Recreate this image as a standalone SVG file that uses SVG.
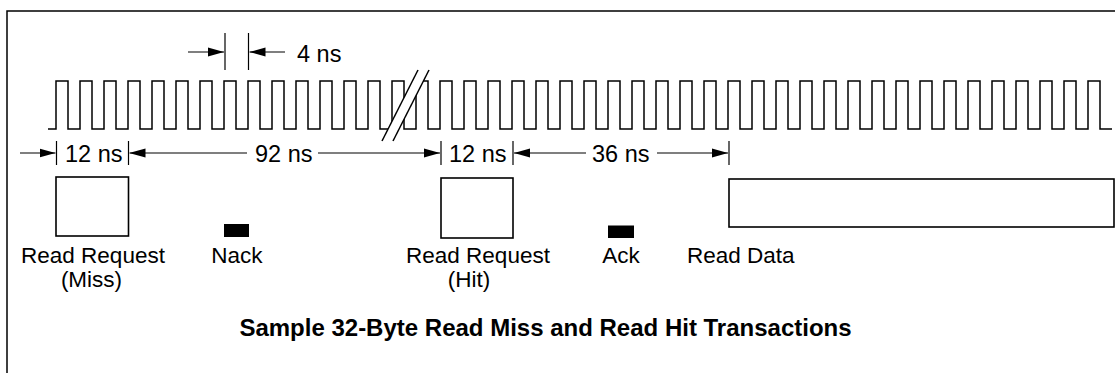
<svg xmlns="http://www.w3.org/2000/svg" width="1115" height="373" viewBox="0 0 1115 373">
<style>
.ln{fill:none;stroke:#000;stroke-width:1.5}
.thin{fill:none;stroke:#000;stroke-width:1.2}
.box{fill:#fff;stroke:#000;stroke-width:1.6}
.blk{fill:#000;stroke:none}
.lbl{font-family:"Liberation Sans",Arial,Helvetica,sans-serif;font-size:22.5px;fill:#000}
.ns{font-family:"Liberation Sans",Arial,Helvetica,sans-serif;font-size:23.5px;fill:#000}
.ttl{font-family:"Liberation Sans",Arial,Helvetica,sans-serif;font-size:24px;font-weight:bold;fill:#000}
</style>
<defs>
<marker id="ah" viewBox="0 0 16 10" refX="16" refY="5" markerWidth="16" markerHeight="10" markerUnits="userSpaceOnUse" orient="auto">
<path d="M0,0.5 L16,5 L0,9.5 Z" fill="#000"/>
</marker>
</defs>
<rect width="1115" height="373" fill="#fff"/>
<g id="frame">
<path class="ln" d="M7,373 V11 H1115"/>
</g>
<g id="clock">
<path class="ln" d="M48,129 H56 V81 H68 V129 H80 V81 H92 V129 H104 V81 H116 V129 H128 V81 H140 V129 H152 V81 H164 V129 H176 V81 H188 V129 H200 V81 H212 V129 H224 V81 H236 V129 H248 V81 H260 V129 H272 V81 H284 V129 H296 V81 H308 V129 H320 V81 H332 V129 H344 V81 H356 V129 H368 V81 H380 V129 H392 V81 H404 V129 H416 V81 H428 V129 H440 V81 H452 V129 H464 V81 H476 V129 H488 V81 H500 V129 H512 V81 H524 V129 H536 V81 H548 V129 H560 V81 H572 V129 H584 V81 H596 V129 H608 V81 H620 V129 H632 V81 H644 V129 H656 V81 H668 V129 H680 V81 H692 V129 H704 V81 H716 V129 H728 V81 H740 V129 H752 V81 H764 V129 H776 V81 H788 V129 H800 V81 H812 V129 H824 V81 H836 V129 H848 V81 H860 V129 H872 V81 H884 V129 H896 V81 H908 V129 H920 V81 H932 V129 H944 V81 H956 V129 H968 V81 H980 V129 H992 V81 H1004 V129 H1016 V81 H1028 V129 H1040 V81 H1052 V129 H1064 V81 H1076 V129 H1088 V81 H1100 V129 H1112"/>
</g>
<g id="break">
<polygon points="382,141 418,70 429,70 393,141" fill="#fff"/>
<line class="ln" x1="382" y1="141" x2="418" y2="70"/>
<line class="ln" x1="393" y1="141" x2="429" y2="70"/>
</g>
<g id="ticks">
<line class="thin" x1="225" y1="33" x2="225" y2="70"/>
<line class="thin" x1="248.5" y1="33" x2="248.5" y2="70"/>
<line class="thin" x1="56.5" y1="141" x2="56.5" y2="165"/>
<line class="thin" x1="128.5" y1="141" x2="128.5" y2="165"/>
<line class="thin" x1="441" y1="141" x2="441" y2="165"/>
<line class="thin" x1="513" y1="141" x2="513" y2="165"/>
<line class="thin" x1="729" y1="141" x2="729" y2="165"/>
</g>
<g id="connectors">
<line class="thin" x1="188" y1="52" x2="224" y2="52" marker-end="url(#ah)"/>
<line class="thin" x1="285" y1="52" x2="249.5" y2="52" marker-end="url(#ah)"/>
<line class="thin" x1="20" y1="153" x2="55.5" y2="153" marker-end="url(#ah)"/>
<line class="thin" x1="247" y1="153" x2="129.5" y2="153" marker-end="url(#ah)"/>
<line class="thin" x1="318" y1="153" x2="440" y2="153" marker-end="url(#ah)"/>
<line class="thin" x1="586" y1="153" x2="514" y2="153" marker-end="url(#ah)"/>
<line class="thin" x1="657" y1="153" x2="728" y2="153" marker-end="url(#ah)"/>
</g>
<g id="dimension-labels">
<text class="ns" x="297" y="62">4 ns</text>
<text class="ns" x="65" y="162">12 ns</text>
<text class="ns" x="255" y="162">92 ns</text>
<text class="ns" x="449" y="162">12 ns</text>
<text class="ns" x="592" y="162">36 ns</text>
</g>
<g id="read-request-miss">
<rect class="box" x="56" y="177" width="72.5" height="59"/>
<text class="lbl" text-anchor="middle"><tspan x="93" y="263">Read Request</tspan><tspan x="91.5" y="287">(Miss)</tspan></text>
</g>
<g id="nack">
<rect class="blk" x="224" y="224" width="25" height="13"/>
<text class="lbl" x="237" y="263" text-anchor="middle">Nack</text>
</g>
<g id="read-request-hit">
<rect class="box" x="441" y="178" width="72" height="60"/>
<text class="lbl" text-anchor="middle"><tspan x="478" y="263">Read Request</tspan><tspan x="469" y="287">(Hit)</tspan></text>
</g>
<g id="ack">
<rect class="blk" x="608" y="225.5" width="26" height="12.5"/>
<text class="lbl" x="621" y="263" text-anchor="middle">Ack</text>
</g>
<g id="read-data">
<rect class="box" x="729" y="179" width="385" height="48"/>
<text class="lbl" x="687" y="263">Read Data</text>
</g>
<g id="title">
<text class="ttl" x="545.5" y="336" text-anchor="middle">Sample 32-Byte Read Miss and Read Hit Transactions</text>
</g>
</svg>
